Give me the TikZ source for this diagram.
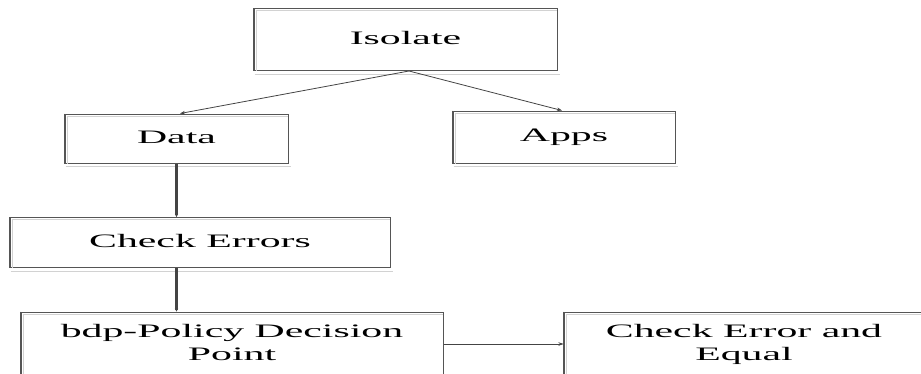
\documentclass[tikz,border=0pt]{standalone}
\usepackage{fontspec}
\setmainfont{Liberation Serif}
\usetikzlibrary{arrows.meta,calc}

\definecolor{edgedark}{HTML}{555555}
\definecolor{edgelight}{HTML}{D2D2D2}
\definecolor{linkgray}{HTML}{444444}

% wide, horizontally stretched lettering
\newcommand\widetext[1]{\scalebox{2.2}[1]{\fontsize{19}{23}\selectfont
  \begin{tabular}{@{}c@{}}#1\end{tabular}}}

\tikzset{
  box/.style={draw=edgedark, line width=1pt, rectangle, inner sep=0pt,
    minimum width=#1},
  link/.style={draw=linkgray, line width=0.8pt,
    -{Stealth[length=5pt,width=3.5pt]}},
  thicklink/.style={draw=linkgray, line width=2.2pt,
    -{Stealth[length=3pt,width=3pt]}},
}

% shadow strokes along the inside of the left/top edge and below the bottom
\newcommand\boxtrim[1]{%
  \draw[edgedark, line width=1.6pt] (#1.north west) -- (#1.south west);
  \draw[edgelight, line width=1pt]
    ($(#1.south west)+(3,0)$) -- ($(#1.north west)+(3,2.5)$) -- ($(#1.north east)+(-1,2.5)$);
  \draw[edgelight, line width=1pt]
    ($(#1.south west)+(1,3)$) -- ($(#1.south east)+(2,3)$);
}

\begin{document}
\begin{tikzpicture}[x=1pt, y=-1pt]
  \useasboundingbox (0,0) rectangle (921,373);

  \node[box=303pt, minimum height=62pt] (iso)  at (405.5,39.5)  {\widetext{Isolate}};
  \node[box=223pt, minimum height=49pt] (data) at (176.5,138.5) {\widetext{Data}};
  \node[box=222pt, minimum height=52pt] (apps) at (564,137)   {\widetext{Apps}};
  \node[box=380pt, minimum height=50pt] (chk)  at (200,242.5)   {\widetext{Check Errors}};
  \node[box=422pt, minimum height=64pt] (bdp)  at (232,344)   {\widetext{bdp-Policy Decision\\Point}};
  \node[box=360pt, minimum height=64pt] (cee)  at (744,344)   {\widetext{Check Error and\\Equal}};

  \foreach \n in {iso,data,apps,chk,bdp,cee} {\boxtrim{\n}}

  \coordinate (split) at ($(iso.south)+(3.5,0)$);
  \draw[link] (split) -- ($(data.north)+(3.5,0)$);
  \draw[link] (split) -- ($(apps.north)+(-2,0)$);
  \draw[thicklink] (data.south) -- (data.south |- chk.north);
  \draw[thicklink] (data.south |- chk.south) -- (data.south |- bdp.north);
  \draw[link, line width=0.6pt] (bdp.east) -- (cee.west);
\end{tikzpicture}
\end{document}
